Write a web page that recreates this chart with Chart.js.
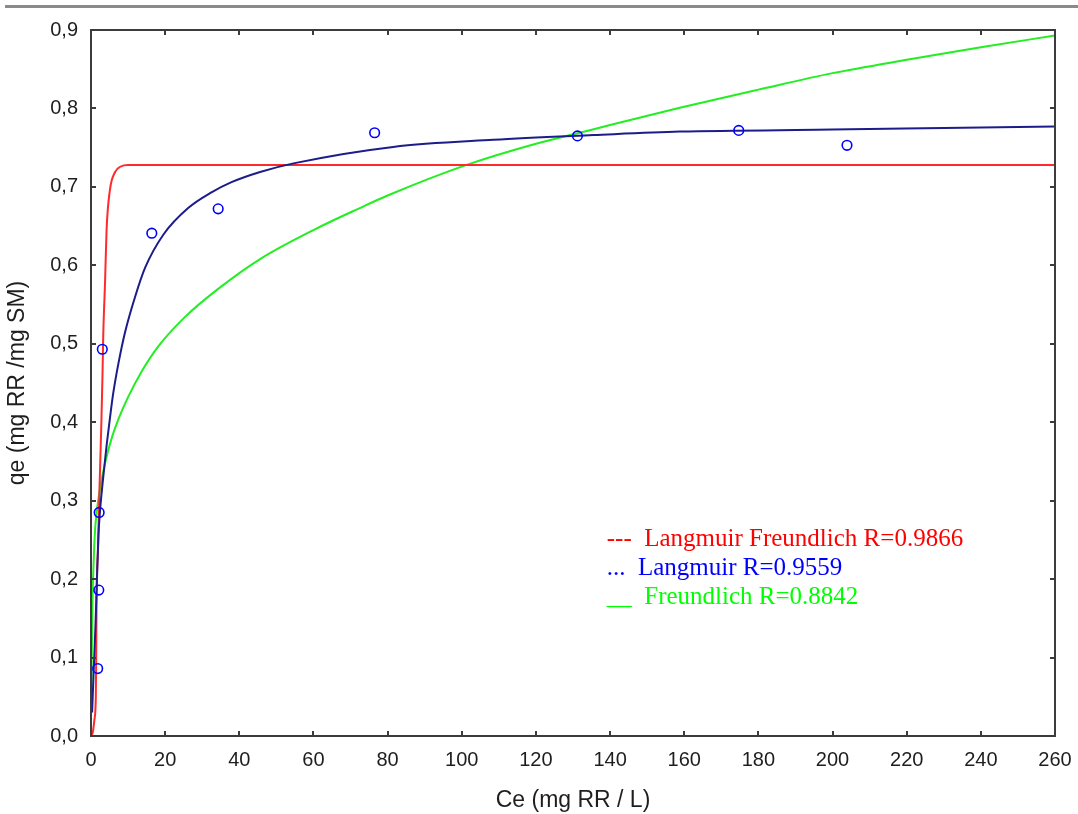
<!DOCTYPE html>
<html>
<head>
<meta charset="utf-8">
<script src="https://cdn.jsdelivr.net/npm/chart.js@4/dist/chart.umd.min.js"></script>
<style>
  html, body { margin: 0; padding: 0; background: #ffffff; }
  #wrap { width: 1078px; height: 814px; position: relative; }
</style>
</head>
<body>
<div id="wrap"><canvas id="c" width="1078" height="814"></canvas></div>
<script>
// ---- data ----
const expCe = [1.8, 2.1, 2.2, 3.05, 16.4, 34.3, 76.5, 131.2, 174.7, 203.9];
const expQe = [0.086, 0.186, 0.285, 0.493, 0.641, 0.672, 0.769, 0.765, 0.772, 0.753];

const lfCe = [0, 0.5, 0.9, 1.3, 1.4, 1.5, 1.9, 2.2, 2.5, 2.8, 3.1, 3.3, 3.8, 4.2, 5.1, 6.5, 8, 10, 260];
const lfQe = [0, 0.005, 0.02, 0.05, 0.10, 0.17, 0.24, 0.30, 0.35, 0.40, 0.46, 0.51, 0.58, 0.645, 0.696, 0.719, 0.726, 0.728, 0.728];

const lCe = [0.3, 0.7, 1.2, 1.6, 2.0, 2.4, 3.3, 4.2, 5.1, 6.0, 7.4, 9.2, 11.9, 14.6, 19.5, 26.2, 32.5, 37.9, 45.6, 54.6, 81.5, 108.5, 135.5, 158.8, 200, 230, 260];
const lQe = [0.03, 0.08, 0.14, 0.20, 0.255, 0.285, 0.33, 0.37, 0.405, 0.437, 0.475, 0.515, 0.560, 0.597, 0.639, 0.673, 0.693, 0.706, 0.719, 0.730, 0.751, 0.760, 0.766, 0.7705, 0.773, 0.775, 0.777];

const fCe = [0.05, 0.2, 0.4, 0.7, 1.1, 1.5, 2.4, 3.8, 5.6, 7.4, 10, 13.7, 18.2, 25.3, 34.3, 45.6, 60, 72.5, 80, 101.3, 120, 131, 140, 158.8, 180, 200, 220, 240, 260];
const fQe = [0.03, 0.10, 0.17, 0.22, 0.263, 0.284, 0.314, 0.348, 0.380, 0.404, 0.432, 0.465, 0.497, 0.534, 0.570, 0.608, 0.645, 0.673, 0.689, 0.728, 0.755, 0.768, 0.779, 0.801, 0.824, 0.845, 0.862, 0.878, 0.893];

const xTickValues = [0, 20, 40, 60, 80, 100, 120, 140, 160, 180, 200, 220, 240, 260];
const yTickLabels = ['0,0', '0,1', '0,2', '0,3', '0,4', '0,5', '0,6', '0,7', '0,8', '0,9'];

const legendLines = ['---  Langmuir Freundlich R=0.9866', '...  Langmuir R=0.9559', '__  Freundlich R=0.8842'];
const legendColors = ['#ff0000', '#0000ff', '#00ff00'];

const xTitle = 'Ce (mg RR / L)';
const yTitle = 'qe (mg RR /mg SM)';

function pts(xs, ys) { return xs.map((x, i) => ({ x: x, y: ys[i] })); }

const framePlugin = {
  id: 'frame',
  beforeDraw(chart) {
    const ctx = chart.ctx;
    ctx.save();
    ctx.fillStyle = '#ffffff';
    ctx.fillRect(0, 0, chart.width, chart.height);
    ctx.fillStyle = '#8a8a8a';
    ctx.fillRect(5, 5, chart.width - 5, 3);
    ctx.restore();
  },
  afterDraw(chart) {
    const ctx = chart.ctx;
    const a = chart.chartArea;
    const xs = chart.scales.x, ys = chart.scales.y;
    ctx.save();
    ctx.strokeStyle = '#3c3c3c';
    ctx.lineWidth = 2;
    ctx.strokeRect(a.left, a.top, a.right - a.left, a.bottom - a.top);
    const tl = 5;
    ctx.beginPath();
    xs.ticks.forEach(t => {
      const p = Math.round(xs.getPixelForValue(t.value));
      ctx.moveTo(p, a.bottom); ctx.lineTo(p, a.bottom - tl);
      ctx.moveTo(p, a.top); ctx.lineTo(p, a.top + tl);
    });
    ys.ticks.forEach(t => {
      const p = Math.round(ys.getPixelForValue(t.value));
      ctx.moveTo(a.left, p); ctx.lineTo(a.left + tl, p);
      ctx.moveTo(a.right, p); ctx.lineTo(a.right - tl, p);
    });
    ctx.stroke();
    ctx.font = '25px "Liberation Serif", "Times New Roman", serif';
    ctx.textBaseline = 'alphabetic';
    ctx.textAlign = 'left';
    const lx = a.left + (a.right - a.left) * 0.535;
    const ly0 = a.top + (a.bottom - a.top) * 0.731;
    legendLines.forEach((s, i) => {
      ctx.fillStyle = legendColors[i];
      ctx.fillText(s, lx, ly0 + i * 29);
    });
    ctx.restore();
  }
};

const lineCommon = { showLine: true, borderWidth: 2, pointRadius: 0, cubicInterpolationMode: 'monotone' };

new Chart(document.getElementById('c'), {
  type: 'scatter',
  data: {
    datasets: [
      {
        label: 'data',
        data: pts(expCe, expQe),
        showLine: false,
        pointStyle: 'circle',
        pointRadius: 4.8,
        pointBorderWidth: 1.6,
        pointBorderColor: '#0000ff',
        pointBackgroundColor: 'rgba(0,0,0,0)'
      },
      Object.assign({ label: 'Langmuir', data: pts(lCe, lQe), borderColor: '#1c1c8a' }, lineCommon),
      Object.assign({ label: 'Langmuir Freundlich', data: pts(lfCe, lfQe), borderColor: '#ff2a2a' }, lineCommon),
      Object.assign({ label: 'Freundlich', data: pts(fCe, fQe), borderColor: '#22ee22' }, lineCommon)
    ]
  },
  options: {
    responsive: false,
    animation: false,
    devicePixelRatio: 1,
    layout: { padding: { left: 0, top: 30, right: 23, bottom: 0 } },
    plugins: {
      legend: { display: false },
      tooltip: { enabled: false }
    },
    scales: {
      x: {
        type: 'linear',
        min: 0, max: 260,
        afterBuildTicks: (s) => { s.ticks = xTickValues.map(v => ({ value: v })); },
        afterFit: (s) => { s.height = 78; s.paddingLeft = 0; s.paddingRight = 0; },
        grid: { display: false, drawTicks: false },
        border: { display: false },
        ticks: {
          padding: 12,
          color: '#1e1e1e',
          font: { family: '"Liberation Sans", Arial, sans-serif', size: 20 },
          callback: (v) => String(v)
        },
        title: {
          display: true,
          text: xTitle,
          color: '#1e1e1e',
          padding: { top: 0, bottom: 0 },
          font: { family: '"Liberation Sans", Arial, sans-serif', size: 23 }
        }
      },
      y: {
        type: 'linear',
        min: 0, max: 0.9,
        afterBuildTicks: (s) => { s.ticks = yTickLabels.map((l, i) => ({ value: i / 10 })); },
        afterFit: (s) => { s.width = 91; s.paddingTop = 0; s.paddingBottom = 0; },
        grid: { display: false, drawTicks: false },
        border: { display: false },
        ticks: {
          padding: 13,
          color: '#1e1e1e',
          font: { family: '"Liberation Sans", Arial, sans-serif', size: 20 },
          callback: (v, i) => yTickLabels[i]
        },
        title: {
          display: true,
          text: yTitle,
          color: '#1e1e1e',
          padding: { top: 4, bottom: 0 },
          font: { family: '"Liberation Sans", Arial, sans-serif', size: 23 }
        }
      }
    }
  },
  plugins: [framePlugin]
});
</script>
</body>
</html>
